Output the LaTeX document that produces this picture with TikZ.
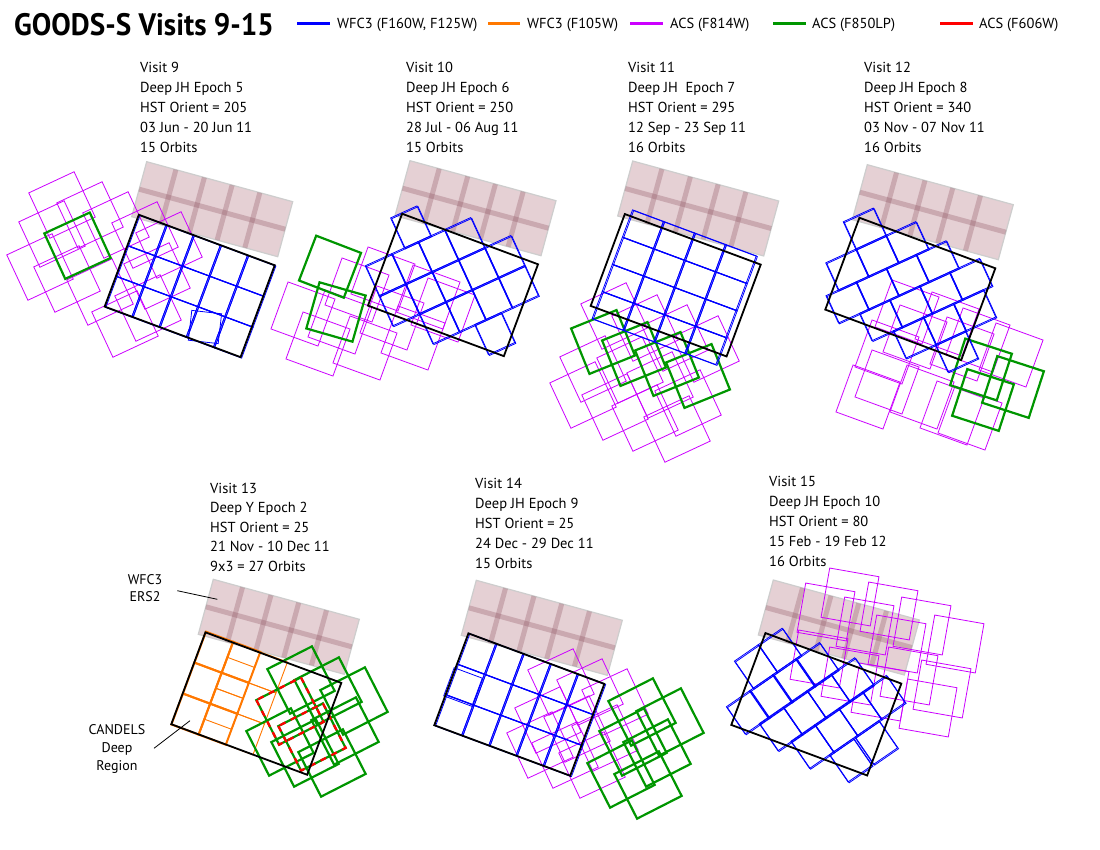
\documentclass[tikz,border=0pt]{standalone}
\usepackage{fontspec}
\setmainfont{PT Sans}
\definecolor{wfcblue}{RGB}{0,0,255}
\definecolor{wfcorange}{RGB}{255,120,0}
\definecolor{acsmag}{RGB}{204,0,255}
\definecolor{acsgreen}{RGB}{0,150,0}
\definecolor{acsred}{RGB}{255,0,0}
\definecolor{erspink}{RGB}{229,208,212}
\definecolor{ersbar}{RGB}{140,80,95}
\definecolor{ersedge}{RGB}{205,205,205}
\tikzset{
 blk/.style={draw=black,line width=1.8},
 bl/.style={draw=wfcblue,line width=0.8},
 mg/.style={draw=acsmag,line width=0.8},
 gr/.style={draw=acsgreen,line width=2.2},
 rd/.style={draw=acsred,line width=2.2,dash pattern=on 6pt off 6pt},
 orthick/.style={draw=wfcorange,line width=2},
 orthin/.style={draw=wfcorange,line width=0.9},
 vtext/.style={anchor=base west,inner sep=0,font=\fontsize{14.5}{17}\selectfont},
 legtext/.style={anchor=base west,inner sep=0,font=\fontsize{14.5}{16}\selectfont},
 legline/.style={line width=3},
 lbl/.style={align=center,inner sep=0,font=\fontsize{14}{17}\selectfont},
 leader/.style={draw=black,line width=0.8},
}
% rotated rectangle: style, cx, cy, w, h, screen angle (clockwise positive)
\newcommand{\tile}[6]{\draw[#1,shift={(#2,#3)},rotate={-(#6)}] ({-(#4)/2},{-(#5)/2}) rectangle ({(#4)/2},{(#5)/2});}
% grid of tiles: style, cx, cy, cols, rows, pw, ph, angle
\newcommand{\tgrid}[8]{\begin{scope}[shift={(#2,#3)},rotate={-(#8)}]
 \foreach \i in {1,...,#4}{\foreach \j in {1,...,#5}{
  \draw[#1] ({(\i-1-#4/2)*#6},{(\j-1-#5/2)*#7}) rectangle +(#6,#7);}}
 \end{scope}}
% doubled blue grid
\newcommand{\bgrid}[7]{\tgrid{bl}{#1}{#2}{#3}{#4}{#5}{#6}{#7}\tgrid{bl}{#1+1.1}{#2+0.8}{#3}{#4}{#5}{#6}{#7}}
% one row of tiles in a rotated frame: style, ox, oy, angle, w, h, v, list of u
\newcommand{\rowtiles}[8]{\begin{scope}[shift={(#2,#3)},rotate={-(#4)}]
 \foreach \u in {#8}{\draw[#1] ({\u-(#5)/2},{(#7)-(#6)/2}) rectangle +(#5,#6);}
 \end{scope}}
\newcommand{\brow}[7]{\rowtiles{bl}{#1}{#2}{#3}{#4}{#5}{#6}{#7}\rowtiles{bl}{#1+1.1}{#2+0.8}{#3}{#4}{#5}{#6}{#7}}
% set of squares: style, size, angle, list of centres
\newcommand{\sqs}[4]{\foreach \cx/\cy in {#4}{\tile{#1}{\cx}{\cy}{#2}{#2}{#3}}}
% ERS2 field with origin at its top-left corner
\newcommand{\ers}[2]{\begin{scope}[shift={(#1,#2)}]
 \filldraw[fill=erspink,draw=ersedge,line width=1.2] (0,0) -- (146,40) -- (131,95) -- (-15,55) -- cycle;
 \foreach \f in {0.2,0.395,0.585,0.775}{\draw[ersbar,opacity=0.3,line width=5] ({\f*146},{\f*40}) -- ({\f*146-15},{\f*40+55});}
 \draw[ersbar,opacity=0.3,line width=5] (-7.5,27.5) -- (138.5,67.5);
 \end{scope}}
% candels deep region: centre
\newcommand{\deep}[2]{\tile{blk}{#1}{#2}{145}{98}{20.4}}
\newcommand{\vblock}[9]{%
 \node[vtext] (#1a) at (#2,#3) {#5};
 \node[vtext] (#1b) at (#2,{#3+#4}) {#6};
 \node[vtext] (#1c) at (#2,{#3+2*#4}) {#7};
 \node[vtext] (#1d) at (#2,{#3+3*#4}) {#8};
 \node[vtext] (#1e) at (#2,{#3+4*#4}) {#9};}
\begin{document}
\begin{tikzpicture}[x=1pt,y=-1pt]
\useasboundingbox[fill=white] (0,0) rectangle (1100,850);
% title and legend
\node[anchor=base west,inner sep=0,font=\fontsize{31}{34}\selectfont\bfseries] (title) at (14,36) {\scalebox{0.94}[1]{GOODS-S Visits 9-15}};
\draw[legline,wfcblue] (297,24) -- (330,24);
\node[legtext] (lg1) at (337,29) {WFC3 (F160W, F125W)};
\draw[legline,wfcorange] (488,24) -- (520,24);
\node[legtext] (lg2) at (527,29) {WFC3 (F105W)};
\draw[legline,acsmag] (630,24) -- (663,24);
\node[legtext] (lg3) at (670,29) {ACS (F814W)};
\draw[legline,acsgreen] (773,24) -- (806,24);
\node[legtext] (lg4) at (812,29) {ACS (F850LP)};
\draw[legline,acsred] (940,24) -- (973,24);
\node[legtext] (lg5) at (979,29) {ACS (F606W)};

% ---------------- Panel 1: Visit 9
\vblock{vA}{140}{73}{20}{Visit 9}{Deep JH Epoch 5}{HST Orient = 205}{03 Jun - 20 Jun 11}{15 Orbits}
\ers{146.7}{161.7}
\sqs{mg}{50}{-25}{62/205,90/215,52/234,40/267,116/225,145/235,169/245,67/279,157/276,125/324,148/308,100/292}
\tile{gr}{77.5}{245.7}{50}{50}{-24.7}
\bgrid{189.7}{286}{5}{3}{29}{32.7}{20.4}
\tile{bl}{205}{327}{30}{30}{6.5}
\deep{189.7}{285.95}

% ---------------- Panel 2: Visit 10
\vblock{vB}{406}{73}{20}{Visit 10}{Deep JH Epoch 6}{HST Orient = 250}{28 Jul - 06 Aug 11}{15 Orbits}
\ers{410}{160.7}
\sqs{mg}{50}{20}{303/314,318/344,357/290,383/279,428/297,413/338,365/348,340/322,392/318,443/310}
\tile{gr}{330}{266.7}{48}{48}{21}
\tile{gr}{336}{312}{48}{48}{16}
\brow{431.7}{271.7}{-24.6}{29}{33}{-49.5}{-0.5}
\brow{431.7}{271.7}{-24.6}{29}{33}{-16.5}{-43.5,-14.5,14.5,43.5}
\brow{431.7}{271.7}{-24.6}{29}{33}{16.5}{-43.5,-14.5,14.5,43.5,72.5}
\brow{431.7}{271.7}{-24.6}{29}{33}{49.5}{-14.5,14.5,43.5,72.5}
\brow{431.7}{271.7}{-24.6}{29}{33}{82.5}{31.5}
\deep{453}{284.95}

% ---------------- Panel 3: Visit 11
\vblock{vC}{628}{73}{20}{Visit 11}{Deep JH\ \ Epoch 7}{HST Orient = 295}{12 Sep - 23 Sep 11}{16 Orbits}
\ers{632.7}{161}
\sqs{mg}{50}{-25}{614/316,645/328,675/338,706/349,593/369,583/395,615/407,645/418,677/429,688/403,630/370,660/385}
\sqs{gr}{49}{-22}{603/342,634/354,667/364,698/376}
\bgrid{674.2}{287.2}{4}{4}{33}{29}{20.4}
\deep{675.7}{285.25}

% ---------------- Panel 4: Visit 12
\vblock{vD}{864}{73}{20}{Visit 12}{Deep JH Epoch 8}{HST Orient = 340}{03 Nov - 07 Nov 11}{16 Orbits}
\ers{867.3}{164.7}
\sqs{mg}{50}{20}{907/312,947/324,915/337,962/349,978/340,1011/355,887/352,868/397,887/382,922/397,952/413,970/418}
\sqs{gr}{49}{18}{981/369.5,1013/387,983/400}
\brow{910.3}{289}{-24.6}{33}{30}{-74}{-16.5}
\brow{910.3}{289}{-24.6}{33}{30}{-44}{-49.5,-16.5,16.5}
\brow{910.3}{289}{-24.6}{33}{30}{-14}{-63,-30,3,36}
\brow{910.3}{289}{-24.6}{33}{30}{16}{-40,-7,26,59}
\brow{910.3}{289}{-24.6}{33}{30}{46}{-16.5,16.5,49.5}
\brow{910.3}{289}{-24.6}{33}{30}{76}{16}
\deep{910.3}{288.95}

% ---------------- Panel 5: Visit 13
\vblock{vE}{210}{493}{19.5}{Visit 13}{Deep Y Epoch 2}{HST Orient = 25}{21 Nov - 10 Dec 11}{9x3 = 27 Orbits}
\ers{213.3}{579.3}
\tgrid{orthick}{215.9}{688.2}{2}{3}{29}{33}{20.4}
\tgrid{orthin}{256.6}{703.4}{1}{3}{29}{33}{20.4}
\tgrid{orthin}{229.5}{693.3}{1}{2}{29}{33}{20.4}
\sqs{gr}{50}{-27}{301/680,328/691,354/701,345/731,332/763,305/753,280/742,290/711,312/737}
\sqs{rd}{50}{-27}{290/711,312/737}
\deep{256.3}{703.55}
\node[lbl] (lblers) at (145,588) {WFC3\\ERS2};
\coordinate (ersA) at (177.3,590.7);
\coordinate (ersB) at (217.3,599.3);
\draw[leader] (ersA) -- (ersB);
\node[lbl,font=\fontsize{14}{18}\selectfont] (lbldeep) at (117,749) {CANDELS\\Deep\\Region};
\coordinate (deepA) at (154,748.3);
\coordinate (deepB) at (190,720.7);
\draw[leader] (deepA) -- (deepB);

% ---------------- Panel 6: Visit 14
\vblock{vF}{475}{488}{20}{Visit 14}{Deep JH Epoch 9}{HST Orient = 25}{24 Dec - 29 Dec 11}{15 Orbits}
\ers{476.3}{580.3}
\sqs{mg}{50}{-25}{561/682,590/692,615/702,548/720,540/745,565/755,592/765,577/729,605/738}
\sqs{gr}{50}{-27}{642/712,670/722,633/742,657/753,621/774,648/785}
\bgrid{519.5}{704.5}{5}{3}{29}{32.7}{20.4}
\tile{bl}{463}{687}{30}{30}{20.4}
\deep{519.3}{704.55}

% ---------------- Panel 7: Visit 15
\vblock{vG}{769}{486}{20}{Visit 15}{Deep JH Epoch 10}{HST Orient = 80}{15 Feb - 19 Feb 12}{16 Orbits}
\ers{773.3}{580}
\sqs{mg}{50}{10}{850/597,889/611,922/626,955/644,826/612,865/626,897/644,819/659,850/676,880/692,909/676,942/689,928/708}
\brow{816.3}{704.25}{-34.6}{29}{33}{-65.5}{-28.5,0.5}
\brow{816.3}{704.25}{-34.6}{29}{33}{-32.5}{-61,-33,-5,23}
\brow{816.3}{704.25}{-34.6}{29}{33}{0}{-43.5,-14.5,14.5,43.5}
\brow{816.3}{704.25}{-34.6}{29}{33}{32.5}{-27.5,1.5,30.5,59.5}
\brow{816.3}{704.25}{-34.6}{29}{33}{65.5}{-3.5,27.5}
\deep{816.3}{704.25}
\end{tikzpicture}
\end{document}
